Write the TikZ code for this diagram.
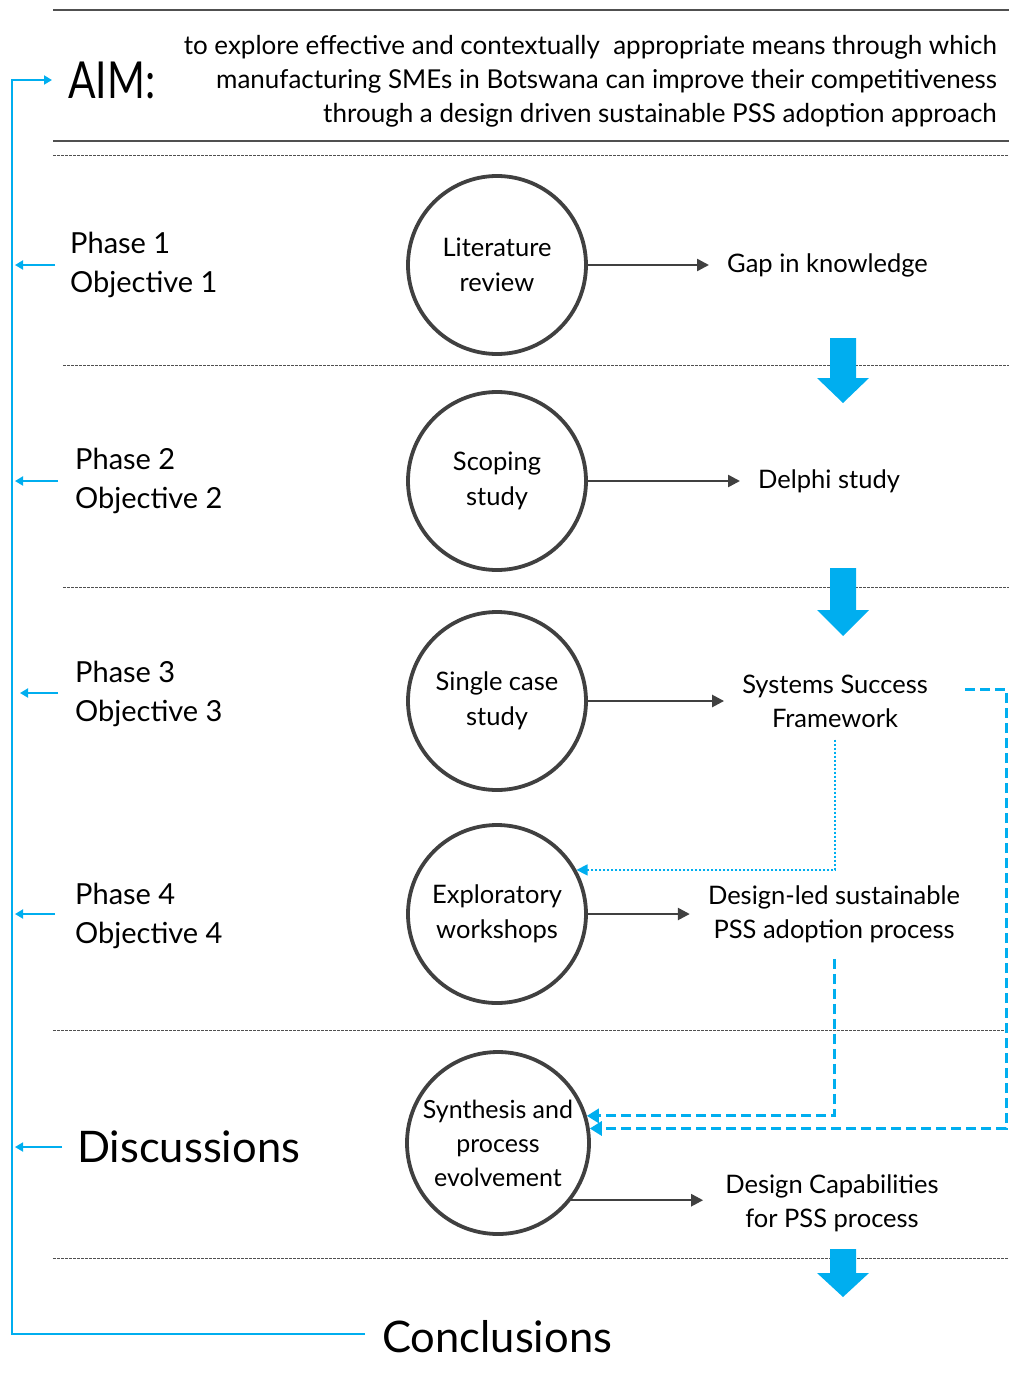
\documentclass[tikz,border=0pt]{standalone}
\usepackage{fontspec}
\setmainfont{Lato}
\newfontfamily\narrowfont[FakeStretch=0.8]{Lato}
\usetikzlibrary{arrows.meta}
\definecolor{accent}{RGB}{0,174,239}
\definecolor{ink}{RGB}{64,64,64}
\definecolor{rule}{RGB}{80,80,80}

\begin{document}
\begin{tikzpicture}[x=1pt,y=-1pt,
  stage/.style={circle,draw=ink,line width=3.8pt,minimum size=178pt,inner sep=0pt,
    align=center,font=\fontsize{25.5}{35}\selectfont},
  outcome/.style={align=center,inner sep=0pt,font=\fontsize{25.5}{34}\selectfont},
  phase/.style={anchor=west,align=left,inner sep=0pt,font=\fontsize{29}{39}\selectfont},
  bigword/.style={anchor=west,inner sep=0pt,font=\fontsize{43.5}{50}\selectfont},
  flow/.style={draw=ink,line width=2.5pt,shorten >=18pt,-{Triangle[length=12pt,width=12pt]}},
  feedback/.style={draw=accent,line width=1.8pt,-{Triangle[length=8pt,width=9pt]}},
  loopthin/.style={draw=accent,line width=1.3pt,dash pattern=on 2.5pt off 1.5pt,
    -{Triangle[length=11pt,width=11pt]}},
  loopthick/.style={draw=accent,line width=3pt,dash pattern=on 10pt off 5pt,
    -{Triangle[length=12pt,width=14pt]}},
  sep/.style={draw=rule,line width=0.9pt,dash pattern=on 2.5pt off 1.5pt},
  solidrule/.style={draw=rule,line width=1.8pt},
  blockfill/.style={fill=accent}]

\useasboundingbox (0,0) rectangle (1009,1395);

% header rules
\draw[solidrule] (53,10) -- (1009,10);
\draw[solidrule] (53,141) -- (1009,141);
\draw[sep] (53,155) -- (1009,155);

% section separators
\draw[sep] (63,365) -- (1009,365);
\draw[sep] (63,587) -- (1009,587);
\draw[sep] (53,1030) -- (1009,1030);
\draw[sep] (53,1258) -- (1009,1258);

% aim
\node[anchor=west,inner sep=0pt,font=\narrowfont\fontsize{51}{51}\selectfont] (aim) at (68,80) {AIM:};
\node[anchor=east,align=right,inner sep=0pt,font=\fontsize{26}{34}\selectfont] (aimtext) at (997,81)
  {to explore effective and contextually\ \ appropriate means through which\\
   manufacturing SMEs in Botswana can improve their competitiveness\\
   through a design driven sustainable PSS adoption approach};

% phases
\node[phase] (p1) at (70,265) {Phase 1\\Objective 1};
\node[phase] (p2) at (75,481) {Phase 2\\Objective 2};
\node[phase] (p3) at (75,694) {Phase 3\\Objective 3};
\node[phase] (p4) at (75,916) {Phase 4\\Objective 4};
\node[bigword] (disc) at (77,1147) {Discussions};
\node[bigword] (conc) at (382,1337) {Conclusions};

% stages
\node[stage] (lit)  at (497,265)  {Literature\\review};
\node[stage] (scop) at (497,481)  {Scoping\\study};
\node[stage] (sing) at (497,701)  {Single case\\study};
\node[stage] (expl) at (497,914)  {Exploratory\\workshops};
\node[stage,minimum size=182pt] (syn) at (498,1143) {};
\node[align=center,inner sep=0pt,font=\fontsize{25}{34}\selectfont] (syntext) at (syn.center)
  {Synthesis and\\process\\evolvement};

% outcomes
\node[outcome,anchor=west] (gap) at (727,265) {Gap in knowledge};
\node[outcome,anchor=west] (del) at (758,481) {Delphi study};
\node[outcome] (ssf) at (835,701) {Systems Success\\Framework};
\node[outcome] (dl)  at (834,914) {Design-led sustainable\\PSS adoption process};
\node[outcome] (cap) at (832,1203) {Design Capabilities\\for PSS process};

% stage outputs
\draw[flow] (lit) -- (gap);
\draw[flow] (scop) -- (del);
\draw[flow] (sing) -- (ssf);
\draw[flow] (expl) -- (dl);
\draw[flow,shorten >=22pt] (syn.-38) -- (syn.-38 -| cap.west);

% flow between phases
\fill[blockfill] (830,338) -- (856,338) -- (856,378) -- (869,378) -- (843,403)
  -- (817,378) -- (830,378) -- cycle;
\fill[blockfill] (830,568) -- (856,568) -- (856,610) -- (869,610) -- (843,636)
  -- (817,610) -- (830,610) -- cycle;
\fill[blockfill] (830,1249) -- (856,1249) -- (856,1273) -- (869,1273) -- (843,1297)
  -- (817,1273) -- (830,1273) -- cycle;

% feedback loops between outcomes and stages
\draw[loopthin,shorten <=12pt] (ssf.south) |- (expl.29);
\draw[loopthick,shorten <=16pt] (dl.south) |- (syn.17);
\coordinate (ssfout) at (965,689);
\coordinate (rturn) at (1006,689);
\draw[loopthick] (ssfout) -- (rturn) |- (syn.9);

% left rail back to the aim
\coordinate (railtop) at (12,80);
\coordinate (railbot) at (12,1334);
\draw[feedback,shorten <=17pt,shorten >=16pt] (conc.west |- railbot) -- (railbot) -- (railtop) -- (aim.west);
\draw[feedback,shorten <=15pt,shorten >=3pt] (p1.west) -- (p1.west -| railtop);
\draw[feedback,shorten <=17pt,shorten >=3pt] (p2.west) -- (p2.west -| railtop);
\draw[feedback,shorten <=17pt,shorten >=8pt] ([yshift=1pt]p3.west) -- ([yshift=1pt]p3.west -| railtop);
\draw[feedback,shorten <=20pt,shorten >=3pt] ([yshift=2pt]p4.west) -- ([yshift=2pt]p4.west -| railtop);
\draw[feedback,shorten <=15pt,shorten >=3pt] (disc.west) -- (disc.west -| railtop);

\end{tikzpicture}
\end{document}
